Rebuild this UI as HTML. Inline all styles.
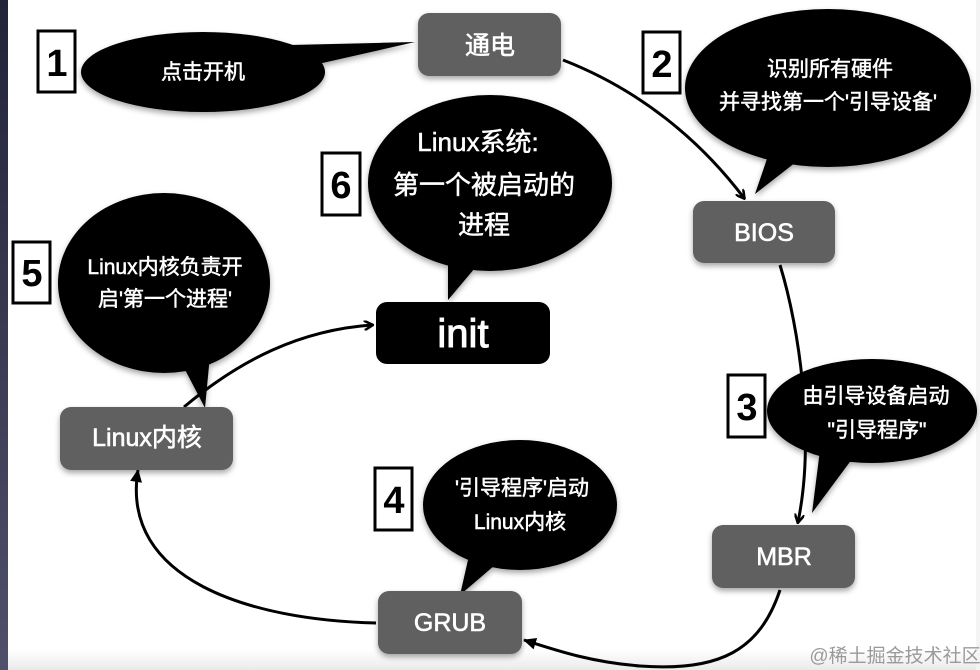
<!DOCTYPE html>
<html><head><meta charset="utf-8"><style>
html,body{margin:0;padding:0;background:#fff}
svg{display:block}
text{font-family:"Liberation Sans","Noto Sans CJK SC",sans-serif}
</style></head><body>
<svg width="980" height="670" viewBox="0 0 980 670" xmlns="http://www.w3.org/2000/svg">
<defs>
<linearGradient id="lg" x1="0" y1="0" x2="0" y2="1"><stop offset="0" stop-color="#22243a"/><stop offset="1" stop-color="#50506a"/></linearGradient>
<linearGradient id="bg2" x1="0" y1="0" x2="0" y2="1"><stop offset="0" stop-color="#fff"/><stop offset="1" stop-color="#eaeaea"/></linearGradient>
<filter id="sh" x="-20%" y="-20%" width="140%" height="140%"><feDropShadow dx="0" dy="3" stdDeviation="3" flood-color="#000" flood-opacity="0.35"/></filter>
<marker id="ar" markerWidth="10" markerHeight="10" refX="8" refY="5" orient="auto" markerUnits="userSpaceOnUse"><path d="M0,0 L9,5 L0,10" fill="none" stroke="#000" stroke-width="2.5"/></marker>
<marker id="at" markerWidth="14" markerHeight="14" refX="12" refY="7" orient="auto" markerUnits="userSpaceOnUse"><path d="M0,1 L13,7 L0,13 Z" fill="#000"/></marker>
</defs>
<rect width="980" height="670" fill="#fff"/>
<rect x="0" y="650" width="980" height="20" fill="url(#bg2)"/>
<rect x="0" y="0" width="8" height="670" fill="url(#lg)"/>
<rect x="976" y="0" width="4" height="670" fill="#f4f4f4"/>

<g fill="none" stroke="#000" stroke-width="3">
<path d="M563,60 C640,90 700,140 744,198" marker-end="url(#ar)"/>
<path d="M780,265 C800,330 815,440 798,522" marker-end="url(#ar)"/>
<path d="M780,590 C760,650 720,672 640,666 C590,662 555,650 524,640" marker-end="url(#at)"/>
<path d="M376,623 C250,620 120,580 138,470" marker-end="url(#at)"/>
<path d="M184,407 C240,360 300,330 372,325" marker-end="url(#ar)"/>
</g>

<g fill="#000" filter="url(#sh)">
<ellipse cx="203" cy="72" rx="122" ry="40"/><path d="M290,45 L415,42 L318,64 Z"/>
<ellipse cx="828" cy="88" rx="143" ry="79"/><path d="M770,150 L755,194 L805,155 Z"/>
<ellipse cx="490" cy="183" rx="122" ry="88"/><path d="M448,255 L448,300 L480,262 Z"/>
<ellipse cx="164" cy="283" rx="106" ry="90"/><path d="M180,360 L205,408 L210,355 Z"/>
<ellipse cx="872" cy="411" rx="105" ry="52"/><path d="M820,450 L812,513 L855,455 Z"/>
<ellipse cx="520" cy="505" rx="97" ry="65"/><path d="M468,560 L460,595 L495,565 Z"/>
</g>
<g fill="#fff" stroke="#fff" stroke-width="0.5" font-size="21" text-anchor="middle">
<text x="203" y="79">点击开机</text>
<text x="830" y="76">识别所有硬件</text>
<text x="828" y="109">并寻找第一个'引导设备'</text>
<text x="478" y="151" font-size="26">Linux系统:</text>
<text x="484" y="194" font-size="26">第一个被启动的</text>
<text x="484" y="234" font-size="26">进程</text>
<text x="165" y="274">Linux内核负责开</text>
<text x="165" y="306">启'第一个进程'</text>
<text x="876" y="403">由引导设备启动</text>
<text x="877" y="437">"引导程序"</text>
<text x="522" y="495">'引导程序'启动</text>
<text x="520" y="529">Linux内核</text>
</g>

<g fill="#616161" filter="url(#sh)">
<rect x="418" y="13" width="143" height="63" rx="11"/>
<rect x="693" y="201" width="142" height="62" rx="11"/>
<rect x="712" y="525" width="143" height="63" rx="11"/>
<rect x="378" y="591" width="144" height="63" rx="11"/>
<rect x="60" y="407" width="173" height="63" rx="11"/>
</g>
<rect x="376" y="302" width="174" height="62" rx="11" fill="#000"/>
<g fill="#fff" stroke="#fff" stroke-width="0.6" font-size="25" text-anchor="middle">
<text x="490" y="54">通电</text>
<text x="764" y="241">BIOS</text>
<text x="784" y="565">MBR</text>
<text x="450" y="631">GRUB</text>
<text x="147" y="446">Linux内核</text>
<text x="463" y="347" font-size="40" stroke-width="1">init</text>
</g>

<g fill="#fff" stroke="#000" stroke-width="3">
<rect x="38" y="31" width="37" height="61"/>
<rect x="643" y="32" width="37" height="61"/>
<rect x="728" y="375" width="37" height="62"/>
<rect x="375" y="468" width="37" height="62"/>
<rect x="13" y="242" width="37" height="61"/>
<rect x="322" y="153" width="38" height="62"/>
</g>
<g fill="#000" font-size="38" font-weight="bold" text-anchor="middle">
<text x="57" y="76">1</text>
<text x="662" y="77">2</text>
<text x="747" y="420">3</text>
<text x="394" y="513">4</text>
<text x="32" y="286">5</text>
<text x="341" y="198">6</text>
</g>
<text x="895" y="662" font-size="19" fill="#9a9a9a" text-anchor="middle">@稀土掘金技术社区</text>
</svg>
</body></html>
